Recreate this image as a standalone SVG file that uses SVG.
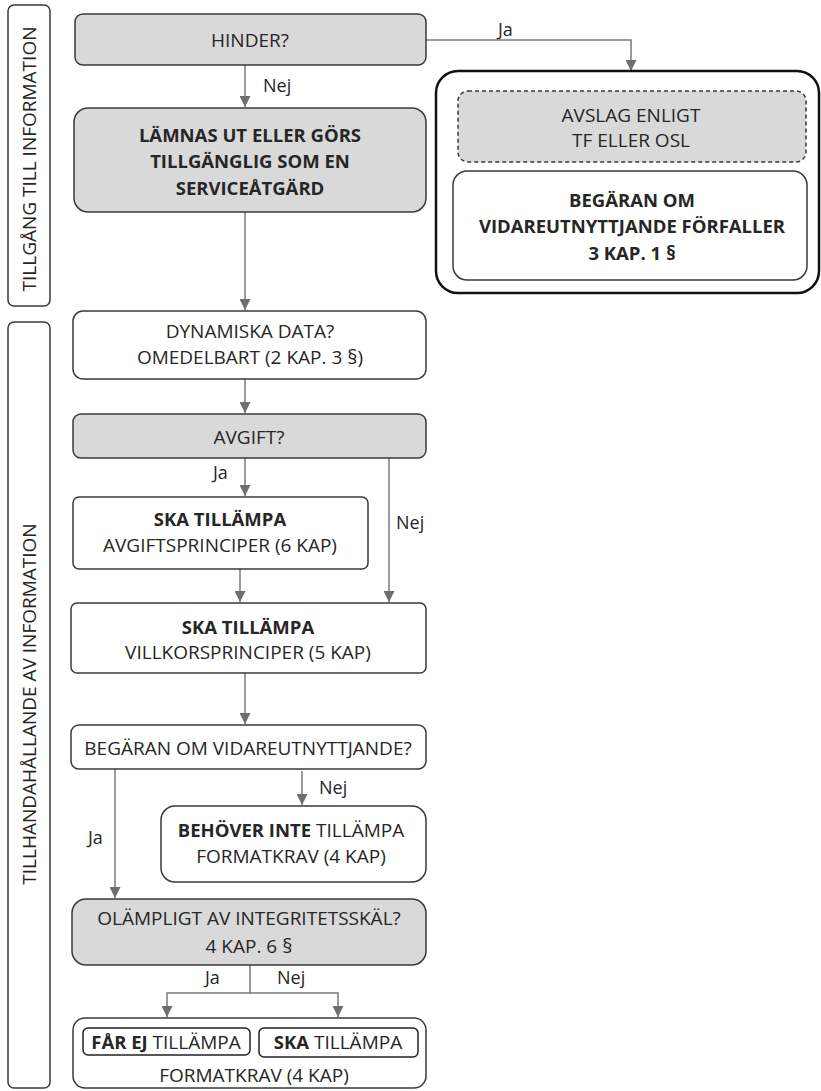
<svg xmlns="http://www.w3.org/2000/svg" width="821" height="1091" viewBox="0 0 821 1091">
<defs>
<style>
.box{fill:#ffffff;stroke:#3a3a3a;stroke-width:1.5}
.gray{fill:#d9d9d9}
.dash{stroke-dasharray:4 3}
.outer{fill:#ffffff;stroke:#111111;stroke-width:2.5}
.inner{fill:#ffffff;stroke:#222222;stroke-width:1.5}
.t{font-family:"Open Sans","Liberation Sans",sans-serif;font-size:19px;fill:#262626;text-anchor:middle}
.b{font-weight:bold;font-size:18.5px}
.sec{font-size:20px}
.lbl{font-family:"Open Sans","Liberation Sans",sans-serif;font-size:18px;fill:#262626}
.conn{stroke:#7a7a7a;stroke-width:1.5;fill:none}
</style>
<marker id="ah" markerUnits="userSpaceOnUse" markerWidth="11" markerHeight="11" refX="11" refY="5.5" orient="auto">
<path d="M0,0 L11,5.5 L0,11 z" fill="#6e6e6e"/>
</marker>
</defs>
<rect width="821" height="1091" fill="#ffffff"/>

<g id="lane-tillgang">
<rect class="box" x="8" y="5" width="42" height="301" rx="6"/>
<text class="t" transform="translate(36,159) rotate(-90)">TILLGÅNG TILL INFORMATION</text>
</g>
<g id="lane-tillhandahallande">
<rect class="box" x="8" y="322" width="42" height="766" rx="6"/>
<text class="t" transform="translate(36,704) rotate(-90)">TILLHANDAHÅLLANDE AV INFORMATION</text>
</g>

<g id="connectors">
<path class="conn" d="M245,65 V107" marker-end="url(#ah)"/>
<path class="conn" d="M426,40 H631 V71" marker-end="url(#ah)"/>
<path class="conn" d="M245,212 V310" marker-end="url(#ah)"/>
<path class="conn" d="M245,379 V413" marker-end="url(#ah)"/>
<path class="conn" d="M245,458 V496" marker-end="url(#ah)"/>
<path class="conn" d="M389,458 V602" marker-end="url(#ah)"/>
<path class="conn" d="M240,569 V602" marker-end="url(#ah)"/>
<path class="conn" d="M245,673 V724" marker-end="url(#ah)"/>
<path class="conn" d="M302,771 V805" marker-end="url(#ah)"/>
<path class="conn" d="M115,769 V898" marker-end="url(#ah)"/>
<path class="conn" d="M250,965 V993 H167 V1017" marker-end="url(#ah)"/>
<path class="conn" d="M250,993 H338 V1017" marker-end="url(#ah)"/>
<text class="lbl" x="263" y="92">Nej</text>
<text class="lbl" x="498" y="36">Ja</text>
<text class="lbl" x="213" y="479">Ja</text>
<text class="lbl" x="396" y="529">Nej</text>
<text class="lbl" x="319" y="794">Nej</text>
<text class="lbl" x="88" y="844">Ja</text>
<text class="lbl" x="205" y="984">Ja</text>
<text class="lbl" x="277" y="984">Nej</text>
</g>

<g id="hinder">
<rect class="box gray" x="75" y="14" width="351" height="51" rx="8"/>
<text class="t" x="250" y="47">HINDER?</text>
</g>
<g id="lamnas">
<rect class="box gray" x="74" y="108" width="352" height="104" rx="14"/>
<text class="t b" x="250" y="142">LÄMNAS UT ELLER GÖRS</text>
<text class="t b" x="250" y="168">TILLGÄNGLIG SOM EN</text>
<text class="t b" x="250" y="195">SERVICEÅTGÄRD</text>
</g>
<g id="avslag-group">
<rect class="outer" x="436" y="71" width="383" height="222" rx="22"/>
</g>
<g id="avslag">
<rect class="box gray dash" x="458" y="91" width="348" height="71" rx="10"/>
<text class="t" x="631" y="122">AVSLAG ENLIGT</text>
<text class="t" x="631" y="147">TF ELLER OSL</text>
</g>
<g id="forfaller">
<rect class="box" x="453" y="171" width="354" height="109" rx="14"/>
<text class="t b" x="632" y="207">BEGÄRAN OM</text>
<text class="t b" x="632" y="233">VIDAREUTNYTTJANDE FÖRFALLER</text>
<text class="t b" x="632" y="260">3 KAP. 1 <tspan class="sec">§</tspan></text>
</g>
<g id="dynamiska">
<rect class="box" x="73" y="311" width="353" height="68" rx="10"/>
<text class="t" x="250" y="338">DYNAMISKA DATA?</text>
<text class="t" x="250" y="364">OMEDELBART (2 KAP. 3 <tspan class="sec">§</tspan>)</text>
</g>
<g id="avgift">
<rect class="box gray" x="73" y="414" width="353" height="44" rx="8"/>
<text class="t" x="249" y="444">AVGIFT?</text>
</g>
<g id="avgiftsprinciper">
<rect class="box" x="73" y="497" width="295" height="72" rx="6"/>
<text class="t b" x="220" y="526">SKA TILLÄMPA</text>
<text class="t" x="220" y="552">AVGIFTSPRINCIPER (6 KAP)</text>
</g>
<g id="villkorsprinciper">
<rect class="box" x="71" y="603" width="355" height="70" rx="6"/>
<text class="t b" x="248" y="634">SKA TILLÄMPA</text>
<text class="t" x="248" y="659">VILLKORSPRINCIPER (5 KAP)</text>
</g>
<g id="begaran">
<rect class="box" x="71" y="725" width="355" height="44" rx="8"/>
<text class="t" x="248" y="755">BEGÄRAN OM VIDAREUTNYTTJANDE?</text>
</g>
<g id="behover">
<rect class="box" x="161" y="806" width="265" height="76" rx="14"/>
<text class="t" x="291" y="837"><tspan class="b">BEHÖVER INTE</tspan> TILLÄMPA</text>
<text class="t" x="291" y="863">FORMATKRAV (4 KAP)</text>
</g>
<g id="olampligt">
<rect class="box gray" x="72" y="899" width="354" height="66" rx="14"/>
<text class="t" x="249" y="925">OLÄMPLIGT AV INTEGRITETSSKÄL?</text>
<text class="t" x="249" y="953">4 KAP. 6 <tspan class="sec">§</tspan></text>
</g>
<g id="formatkrav">
<rect class="box" x="73" y="1018" width="353" height="70" rx="12"/>
<rect class="inner" x="83" y="1028" width="167" height="27" rx="5"/>
<rect class="inner" x="259" y="1028" width="159" height="29" rx="5"/>
<text class="t" x="166" y="1049"><tspan class="b">FÅR EJ</tspan> TILLÄMPA</text>
<text class="t" x="338" y="1049"><tspan class="b">SKA</tspan> TILLÄMPA</text>
<text class="t" x="254" y="1082">FORMATKRAV (4 KAP)</text>
</g>
</svg>
